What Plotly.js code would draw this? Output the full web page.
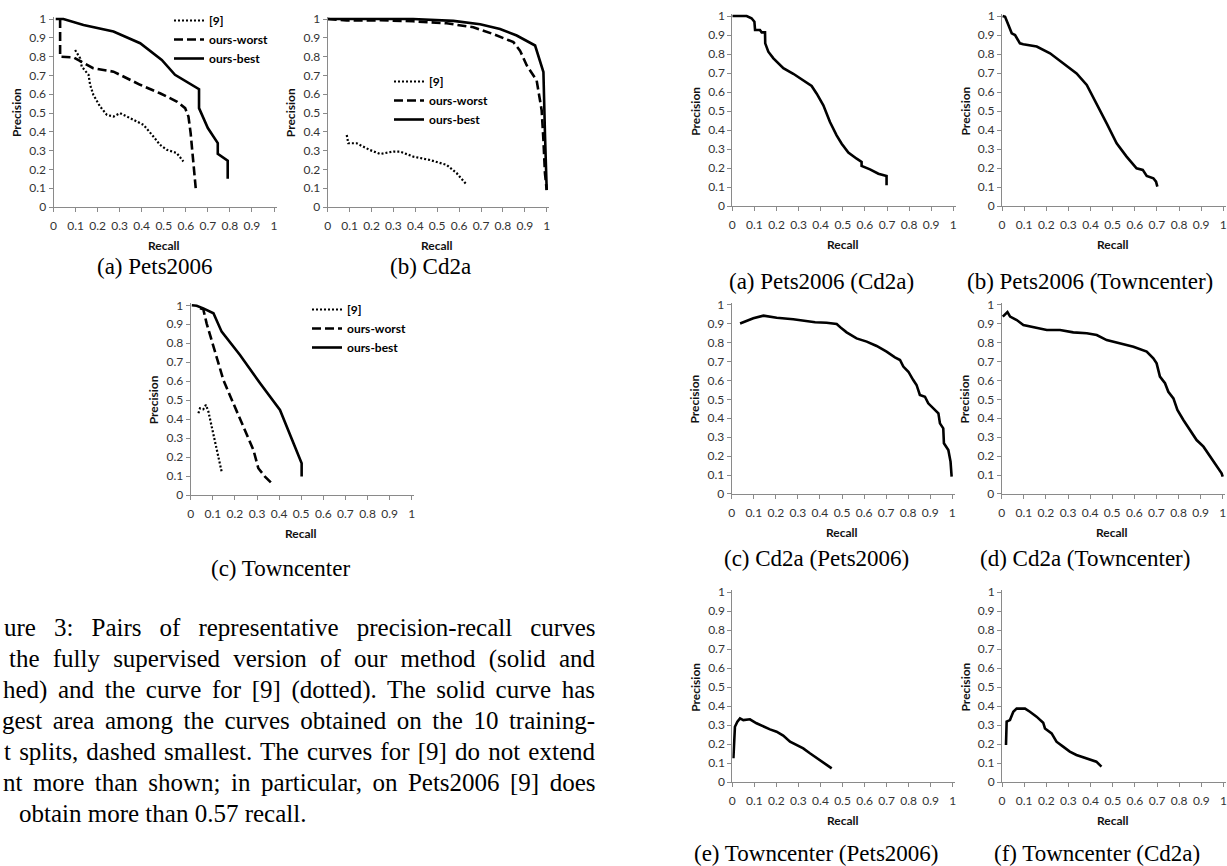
<!DOCTYPE html>
<html><head><meta charset="utf-8">
<script src="https://cdn.plot.ly/plotly-3.0.1.min.js"></script>
<style>html,body{margin:0;padding:0;background:#fff;}#chart{width:1227px;height:866px;}</style>
</head><body><div id="chart"></div>
<script>
// ---------- tick labels ----------
const TICK_VALS = [0,0.1,0.2,0.3,0.4,0.5,0.6,0.7,0.8,0.9,1];
const TICK_TEXT = ['0','0.1','0.2','0.3','0.4','0.5','0.6','0.7','0.8','0.9','1'];
const SERIES_NAMES = ['[9]','ours-worst','ours-best'];

// ---------- Figure 3 (a) Pets2006 ----------
const petsDot_x   = [0.098,0.121,0.128,0.159,0.166,0.181,0.211,0.242,0.272,0.302,0.347,0.408,0.453,0.483,0.514,0.559,0.589];
const petsDot_y   = [0.835,0.791,0.747,0.703,0.650,0.596,0.535,0.490,0.481,0.499,0.473,0.437,0.375,0.331,0.304,0.287,0.242];
const petsWorst_x = [0.03,0.03,0.09,0.136,0.18,0.272,0.347,0.393,0.483,0.559,0.597,0.612,0.622,0.627,0.634,0.645];
const petsWorst_y = [1.0,0.8,0.796,0.765,0.738,0.72,0.676,0.65,0.605,0.561,0.526,0.481,0.393,0.322,0.234,0.1];
const petsBest_x  = [0.01,0.045,0.136,0.272,0.393,0.491,0.551,0.66,0.66,0.70,0.745,0.745,0.79,0.79];
const petsBest_y  = [1.0,1.0,0.968,0.933,0.871,0.782,0.703,0.627,0.526,0.42,0.34,0.283,0.246,0.15];

// ---------- Figure 3 (b) Cd2a ----------
const cdDot_x   = [0.087,0.094,0.132,0.193,0.239,0.30,0.33,0.391,0.467,0.543,0.589,0.635];
const cdDot_y   = [0.383,0.339,0.339,0.303,0.282,0.295,0.295,0.268,0.25,0.224,0.18,0.118];
const cdWorst_x = [0,0.087,0.24,0.39,0.543,0.665,0.756,0.848,0.878,0.909,0.954,0.977,0.985,0.992,1.0];
const cdWorst_y = [1,0.992,0.993,0.988,0.977,0.956,0.92,0.877,0.832,0.753,0.674,0.515,0.356,0.18,0.09];
const cdBest_x  = [0,0.39,0.574,0.696,0.787,0.863,0.947,0.985,0.992,0.997,1.0];
const cdBest_y  = [1,1,0.99,0.972,0.947,0.912,0.859,0.718,0.392,0.18,0.09];

// ---------- Figure 3 (c) Towncenter ----------
const tcDot_x   = [0.035,0.042,0.057,0.069,0.08,0.095,0.11,0.125,0.14];
const tcDot_y   = [0.431,0.457,0.452,0.475,0.44,0.36,0.272,0.185,0.123];
const tcWorst_x = [0.042,0.057,0.072,0.103,0.148,0.193,0.238,0.284,0.306,0.336,0.374];
const tcWorst_y = [0.984,0.979,0.905,0.782,0.606,0.483,0.36,0.237,0.141,0.097,0.053];
const tcBest_x  = [0.005,0.027,0.057,0.103,0.14,0.223,0.314,0.404,0.502,0.502];
const tcBest_y  = [1.0,0.998,0.984,0.958,0.861,0.738,0.589,0.448,0.167,0.097];

// ---------- cross-dataset curves ----------
const petsOnCd_x = [0,0.065,0.087,0.1,0.103,0.125,0.133,0.148,0.149,0.163,0.186,0.231,0.276,0.321,0.359,0.382,0.412,0.442,0.472,0.495,0.525,0.563,0.585,0.585,0.623,0.661,0.698,0.698];
const petsOnCd_y = [1,1,0.988,0.97,0.926,0.926,0.914,0.914,0.856,0.812,0.777,0.725,0.696,0.661,0.632,0.591,0.53,0.442,0.372,0.328,0.281,0.249,0.232,0.211,0.193,0.17,0.158,0.109];
const petsOnTc_x = [0.003,0.014,0.029,0.044,0.059,0.081,0.096,0.157,0.217,0.277,0.337,0.383,0.428,0.473,0.518,0.563,0.608,0.636,0.654,0.684,0.696,0.702];
const petsOnTc_y = [1.0,0.996,0.953,0.909,0.9,0.856,0.851,0.839,0.804,0.751,0.698,0.637,0.54,0.435,0.33,0.26,0.198,0.19,0.158,0.146,0.128,0.102];
const cdOnPets_x = [0.038,0.098,0.144,0.204,0.279,0.34,0.378,0.43,0.476,0.498,0.521,0.566,0.612,0.657,0.702,0.74,0.763,0.778,0.801,0.823,0.838,0.853,0.876,0.891,0.914,0.937,0.944,0.959,0.962,0.982,0.992,0.997];
const cdOnPets_y = [0.901,0.928,0.942,0.931,0.923,0.914,0.907,0.905,0.898,0.875,0.854,0.822,0.805,0.782,0.752,0.722,0.708,0.673,0.646,0.602,0.576,0.523,0.514,0.479,0.452,0.426,0.373,0.347,0.268,0.232,0.171,0.092];
const cdOnTc_x = [0.005,0.015,0.026,0.038,0.068,0.098,0.143,0.204,0.264,0.324,0.385,0.43,0.475,0.535,0.596,0.656,0.686,0.701,0.716,0.739,0.754,0.777,0.795,0.822,0.852,0.882,0.913,0.943,0.965,0.995,1.0];
const cdOnTc_y = [0.937,0.951,0.961,0.937,0.919,0.893,0.88,0.866,0.866,0.854,0.849,0.84,0.813,0.796,0.778,0.752,0.717,0.69,0.62,0.585,0.54,0.505,0.444,0.391,0.338,0.285,0.25,0.197,0.162,0.109,0.092];
const tcOnPets_x = [0.005,0.008,0.012,0.023,0.035,0.05,0.08,0.11,0.141,0.171,0.201,0.231,0.262,0.292,0.322,0.352,0.383,0.413,0.451];
const tcOnPets_y = [0.125,0.239,0.291,0.318,0.335,0.326,0.33,0.309,0.291,0.277,0.265,0.244,0.212,0.195,0.177,0.151,0.125,0.102,0.072];
const tcOnCd_x = [0.018,0.021,0.036,0.051,0.066,0.104,0.126,0.156,0.186,0.194,0.224,0.246,0.276,0.306,0.336,0.381,0.411,0.426,0.449];
const tcOnCd_y = [0.195,0.318,0.326,0.37,0.386,0.386,0.37,0.344,0.312,0.282,0.256,0.212,0.186,0.16,0.142,0.125,0.116,0.107,0.081];

// ---------- texts ----------
const CAPTIONS = ['(a) Pets2006','(b) Cd2a','(c) Towncenter','(a) Pets2006 (Cd2a)','(b) Pets2006 (Towncenter)','(c) Cd2a (Pets2006)','(d) Cd2a (Towncenter)','(e) Towncenter (Pets2006)','(f) Towncenter (Cd2a)'];
const PARAGRAPH = [
  'ure 3: Pairs of representative precision-recall curves',
  'the fully supervised version of our method (solid and',
  'hed) and the curve for [9] (dotted). The solid curve has',
  'gest area among the curves obtained on the 10 training-',
  't splits, dashed smallest. The curves for [9] do not extend',
  'nt more than shown; in particular, on Pets2006 [9] does',
  'obtain more than 0.57 recall.'
];

// ---------- layout geometry (pixels) ----------
const W = 1227, H = 866, XEXT = 1.012, YEXT = 1.01;
const px2x = p => p / W, px2y = p => 1 - p / H;
const STYLE = {
  dot:   {width: 2.2, dash: '2px,2px'},
  dash:  {width: 2.6, dash: '9px,4px'},
  solid: {width: 2.6, dash: 'solid'}
};
const panels = [
  {g:[53.5,274,19,207], cap:[155,267], leg:[169,6],
   s:[[petsDot_x,petsDot_y,'dot'],[petsWorst_x,petsWorst_y,'dash'],[petsBest_x,petsBest_y,'solid']]},
  {g:[327.7,546.7,19,207], cap:[430,267], leg:[389,67],
   s:[[cdDot_x,cdDot_y,'dot'],[cdWorst_x,cdWorst_y,'dash'],[cdBest_x,cdBest_y,'solid']]},
  {g:[190.7,411.7,305.3,495], cap:[280,568], leg:[307,295],
   s:[[tcDot_x,tcDot_y,'dot'],[tcWorst_x,tcWorst_y,'dash'],[tcBest_x,tcBest_y,'solid']]},
  {g:[732.3,953.3,16,206], cap:[821,281], s:[[petsOnCd_x,petsOnCd_y,'solid']]},
  {g:[1002,1223.3,16,206], cap:[1090,281], s:[[petsOnTc_x,petsOnTc_y,'solid']]},
  {g:[731.7,952.3,304.7,494], cap:[816,558], s:[[cdOnPets_x,cdOnPets_y,'solid']]},
  {g:[1001.7,1222.7,304.7,494], cap:[1085,558], s:[[cdOnTc_x,cdOnTc_y,'solid']]},
  {g:[732.3,952.7,592,782], cap:[816,853], s:[[tcOnPets_x,tcOnPets_y,'solid']]},
  {g:[1002,1223.5,592,782], cap:[1097,853], s:[[tcOnCd_x,tcOnCd_y,'solid']]}
];
const PARA_LEFT = [1.5,7,1,0,2,0.5,17];
const PARA_BASE = [636,667,698,729,760,791,822];
const PARA_RIGHT = 593;

const AXIS_COLOR = '#8a8a8a';
const TICK_FONT = {family:'Lato, "Liberation Sans", sans-serif', size:12, color:'#333'};
const LABEL_FONT = {family:'Lato, "Liberation Sans", sans-serif', size:12, color:'#111', weight:'bold'};
const SERIF = '"Liberation Serif", "DejaVu Serif", serif';

const traces = [];
const layout = {
  width: W, height: H, margin:{l:0,r:0,t:0,b:0},
  paper_bgcolor:'#fff', plot_bgcolor:'rgba(0,0,0,0)',
  showlegend: true, annotations: []
};
let legendCount = 0;
panels.forEach((p, i) => {
  const n = i === 0 ? '' : String(i + 1);
  const [x0, x1, yT, yB] = p.g;
  const xEnd = x0 + XEXT * (x1 - x0);
  const yEnd = yB - YEXT * (yB - yT);
  const axBase = {
    showline:true, linecolor:AXIS_COLOR, linewidth:1, ticks:'outside', ticklen:4,
    tickcolor:AXIS_COLOR, tickwidth:1, showgrid:false, zeroline:false,
    tickmode:'array', tickvals:TICK_VALS, ticktext:TICK_TEXT, tickfont:TICK_FONT,
    fixedrange:true, ticklabeloverflow:'allow'
  };
  layout['xaxis' + n] = Object.assign({}, axBase, {
    domain:[px2x(x0), Math.min(1, px2x(xEnd))], range:[0, XEXT], anchor:'y' + n, ticklabelstandoff:4
  });
  layout['yaxis' + n] = Object.assign({}, axBase, {
    domain:[px2y(yB), px2y(yEnd)], range:[0, YEXT], anchor:'x' + n
  });
  let legKey = null;
  if (p.leg) {
    legendCount++;
    legKey = legendCount === 1 ? 'legend' : 'legend' + legendCount;
    layout[legKey] = {
      x: px2x(p.leg[0]), y: px2y(p.leg[1]), xanchor:'left', yanchor:'top',
      bgcolor:'rgba(0,0,0,0)', borderwidth:0, itemwidth:30, tracegroupgap:0,
      font:{family:'Lato, "Liberation Sans", sans-serif', size:12, color:'#000', weight:'bold'}
    };
  }
  p.s.forEach((s, k) => {
    const st = STYLE[s[2]];
    traces.push({
      type:'scatter', mode:'lines', x:s[0], y:s[1], xaxis:'x' + n, yaxis:'y' + n,
      name: p.s.length > 1 ? SERIES_NAMES[k] : CAPTIONS[i],
      line:{color:'#000', width:st.width, dash:st.dash, shape:'linear'},
      showlegend: !!legKey, legend: legKey || 'legend', hoverinfo:'skip'
    });
  });
  // axis titles
  layout.annotations.push({xref:'paper', yref:'paper', x:px2x(x0 - 37.5), y:px2y((yT + yB) / 2),
    text:'Precision', textangle:-90, showarrow:false, xanchor:'center', yanchor:'middle', font:LABEL_FONT});
  layout.annotations.push({xref:'paper', yref:'paper', x:px2x((x0 + x1) / 2), y:px2y(yB + 38.5),
    text:'Recall', showarrow:false, xanchor:'center', yanchor:'middle', font:LABEL_FONT});
  // caption
  layout.annotations.push({xref:'paper', yref:'paper', x:px2x(p.cap[0]), y:px2y(p.cap[1]),
    text:CAPTIONS[i], showarrow:false, xanchor:'center', yanchor:'middle',
    font:{family:SERIF, size:23, color:'#000'}});
});
const justify = {};
PARAGRAPH.forEach((line, i) => {
  const idx = layout.annotations.length;
  layout.annotations.push({xref:'paper', yref:'paper', x:px2x(PARA_LEFT[i]), y:px2y(PARA_BASE[i] - 8.4),
    text:line, showarrow:false, xanchor:'left', yanchor:'middle', align:'left',
    font:{family:SERIF, size:25, color:'#000'}});
  if (i < PARAGRAPH.length - 1) justify[idx] = PARA_RIGHT - PARA_LEFT[i];
});

Plotly.newPlot('chart', traces, layout, {staticPlot:true, displayModeBar:false}).then(gd => {
  gd.querySelectorAll('g.annotation').forEach(g => {
    const idx = +g.getAttribute('data-index');
    if (!(idx in justify)) return;
    const t = g.querySelector('text');
    if (!t) return;
    const w = t.getComputedTextLength();
    const nSp = (t.textContent.match(/ /g) || []).length;
    if (nSp > 0 && justify[idx] > w) t.style.wordSpacing = ((justify[idx] - w) / nSp) + 'px';
  });
});
</script></body></html>
